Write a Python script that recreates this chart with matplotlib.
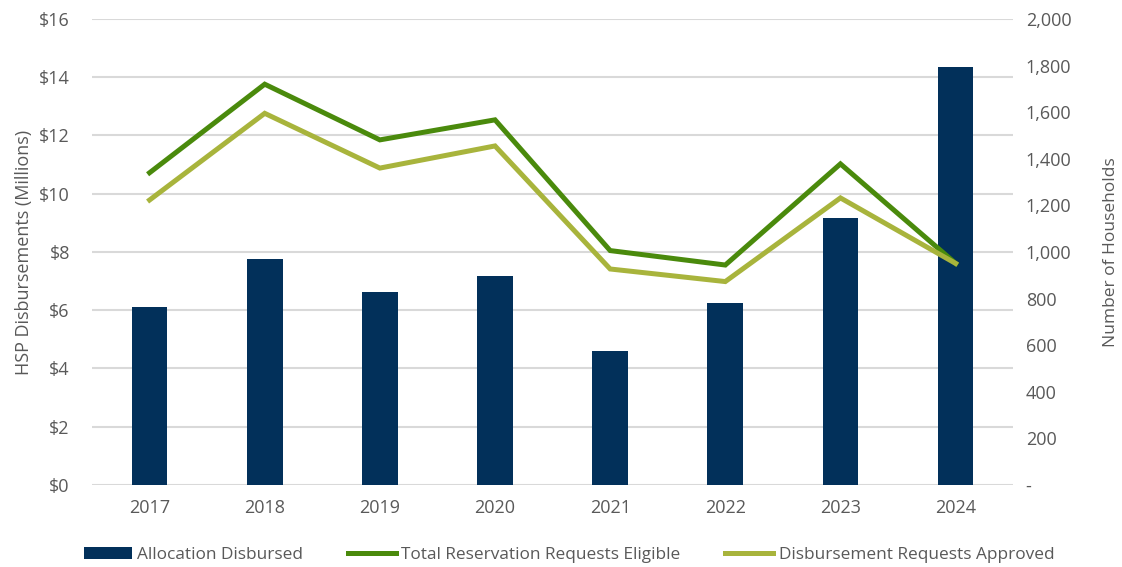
import matplotlib
matplotlib.use("Agg")
import matplotlib.pyplot as plt
from matplotlib.ticker import FuncFormatter

plt.rcParams['font.family'] = ['Open Sans', 'DejaVu Sans']

years = ['2017', '2018', '2019', '2020', '2021', '2022', '2023', '2024']
allocation = [6.10, 7.77, 6.61, 7.18, 4.60, 6.24, 9.16, 14.35]  # $ millions
eligible = [1340, 1720, 1481, 1567, 1006, 944, 1378, 951]
approved = [1223, 1595, 1360, 1455, 927, 873, 1232, 951]

navy = '#02305a'
green = '#4a8a0c'
olive = '#a8b43c'
gray = '#595959'
grid = '#d9d9d9'

fig = plt.figure(figsize=(11.22, 5.67), dpi=100)
ax = fig.add_axes([0.082, 0.1446, 0.821, 0.822])
ax2 = ax.twinx()

x = list(range(len(years)))
bars = ax.bar(x, allocation, width=0.31, color=navy, label='Allocation Disbursed', zorder=2)
l1, = ax2.plot(x, eligible, color=green, lw=3.6, label='Total Reservation Requests Eligible',
               solid_joinstyle='miter')
l2, = ax2.plot(x, approved, color=olive, lw=3.6, label='Disbursement Requests Approved',
               solid_joinstyle='miter')

ax.set_xlim(-0.5, 7.5)
ax.set_ylim(0, 16)
ax2.set_ylim(0, 2000)
ax.set_yticks(range(0, 17, 2))
ax2.set_yticks(range(0, 2001, 200))
ax.yaxis.set_major_formatter(FuncFormatter(lambda v, p: f'${v:.0f}'))
ax2.yaxis.set_major_formatter(FuncFormatter(lambda v, p: '-' if v == 0 else f'{v:,.0f}'))
ax.set_xticks(x)
ax.set_xticklabels(years)

ax.grid(axis='y', color=grid, lw=1.5, zorder=0)
ax.set_axisbelow(True)
for a in (ax, ax2):
    for s in a.spines.values():
        s.set_visible(False)
    a.tick_params(length=0, labelsize=13, labelcolor=gray)
ax.tick_params(axis='y', pad=16)
ax.tick_params(axis='x', pad=10)
ax2.tick_params(axis='y', pad=9)

ax.set_ylabel('HSP Disbursements (Millions)', fontsize=13, color=gray, labelpad=4)
ax2.set_ylabel('Number of Households', fontsize=12.5, color=gray, labelpad=23)

fig.legend([bars, l1, l2], [bars.get_label(), l1.get_label(), l2.get_label()],
           loc='lower center', bbox_to_anchor=(0.507, -0.02), ncol=3, frameon=False,
           fontsize=12.4, labelcolor=gray, handlelength=2.8, handletextpad=0.3,
           columnspacing=2.6)

fig.savefig('out.png', dpi=100)
